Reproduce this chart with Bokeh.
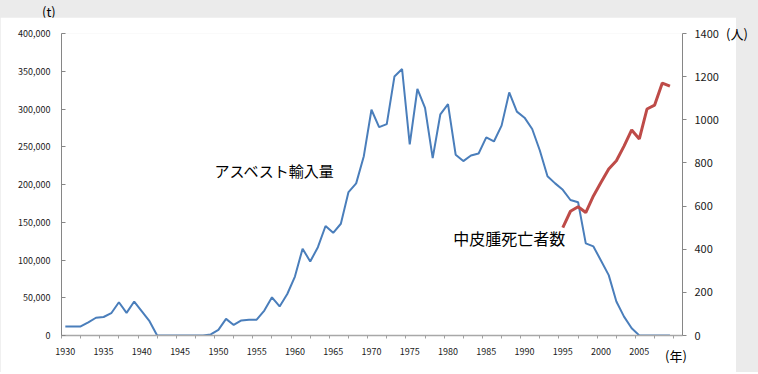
from bokeh.plotting import figure
from bokeh.models import Range1d, LinearAxis, FixedTicker, NumeralTickFormatter, Label, Div
from bokeh.layouts import column, row
from bokeh.embed import file_html
from bokeh.resources import INLINE

# ---- data ----
years = list(range(1930, 2010))
imports_t = [
    12000, 12000, 12000, 17500, 23500, 24500, 29500, 44000, 30000, 45000,   # 1930-39
    32000, 19000, 0, 0, 0, 0, 0, 0, 0, 1500,                                 # 1940-49
    7500, 22000, 14000, 20000, 21000, 21000, 33000, 50500, 38500, 55000,     # 1950-59
    78000, 115000, 98000, 117000, 145000, 136000, 148000, 190000, 201500, 237500,  # 1960-69
    299000, 276000, 280000, 343000, 353000, 253000, 326500, 301500, 235000, 293000,  # 1970-79
    306500, 239500, 231000, 238500, 241000, 262500, 257000, 278000, 322000, 296500,  # 1980-89
    288500, 273500, 245000, 211000, 201500, 193000, 179500, 176500, 122000, 118000,  # 1990-99
    99000, 80000, 45000, 25000, 9500, 100, 0, 0, 0, 0,                        # 2000-09
]
death_years = list(range(1995, 2010))
deaths = [500, 576, 597, 570, 647, 710, 772, 810, 878, 953, 911, 1050, 1068, 1170, 1156]

x_label_years = list(range(1930, 2010, 5))
x_minor_ticks = [1929.5 + 2.5 * i for i in range(33)]
left_ticks = list(range(0, 400001, 50000))
right_ticks = list(range(0, 1401, 200))

FONT = "Noto Sans CJK JP"
TXT = "#1a1a1a"
GRAY = "#ebebeb"

p = figure(width=736, height=355, output_backend="svg", toolbar_location=None,
           x_range=Range1d(1929.5, 2010.64), y_range=Range1d(0, 400000),
           min_border_left=61, min_border_right=54, min_border_top=16, min_border_bottom=37,
           margin=0)
p.extra_y_ranges = {"right": Range1d(0, 1400)}
p.xgrid.visible = False
p.ygrid.visible = False
p.outline_line_color = None
p.background_fill_color = "white"
p.border_fill_color = "white"

# x axis
xa = p.xaxis[0]
xa.ticker = FixedTicker(ticks=x_label_years, minor_ticks=x_minor_ticks)
xa.major_tick_out = 0
xa.major_tick_in = 0
xa.minor_tick_out = 3
xa.minor_tick_in = 0
xa.minor_tick_line_color = "#a0a0a0"
xa.axis_line_color = "#a8a8a8"
xa.axis_line_width = 1.5
xa.major_label_standoff = 9
xa.major_label_text_font = FONT
xa.major_label_text_font_size = "9px"
xa.major_label_text_color = TXT

# left axis
ya = p.yaxis[0]
ya.ticker = FixedTicker(ticks=left_ticks)
ya.formatter = NumeralTickFormatter(format="0,0")
ya.major_tick_in = 4
ya.major_tick_out = 0
ya.minor_tick_in = 0
ya.minor_tick_out = 0
ya.axis_line_color = "#868686"
ya.major_tick_line_color = "#868686"
ya.major_label_standoff = 11
ya.major_label_text_font = FONT
ya.major_label_text_font_size = "9px"
ya.major_label_text_color = TXT

# right axis
ra = LinearAxis(y_range_name="right", ticker=FixedTicker(ticks=right_ticks))
ra.major_tick_in = 0
ra.major_tick_out = 4
ra.minor_tick_in = 0
ra.minor_tick_out = 0
ra.axis_line_color = "#868686"
ra.major_tick_line_color = "#868686"
ra.major_label_standoff = 8
ra.major_label_text_font = FONT
ra.major_label_text_font_size = "11px"
ra.major_label_text_color = TXT
p.add_layout(ra, "right")

# lines
p.line(years, imports_t, line_color="#4a7ebb", line_width=2)
p.line(death_years, deaths, y_range_name="right", line_color="#be4b48", line_width=3)

# texts inside the plot
p.add_layout(Label(x=1949.5, y=218000, text="アスベスト輸入量", text_font=FONT,
                   text_font_size="15px", text_baseline="middle", text_align="left",
                   text_color="black"))
p.add_layout(Label(x=1980.7, y=450, y_range_name="right", text="中皮腫死亡者数", text_font=FONT,
                   text_font_size="16px", text_baseline="middle", text_align="left",
                   text_color="black"))

SPAN = "position:absolute;line-height:17px;white-space:nowrap;font-family:'Noto Sans CJK JP';color:#000;"
top = Div(width=758, height=17, margin=0, styles={"background-color": GRAY},
          text=('<div style="position:relative;width:758px;height:17px;">'
                f'<span style="{SPAN}left:42px;top:3px;font-size:13px;">(t)</span></div>'))
side = Div(width=22, height=355, margin=0, styles={"background-color": GRAY, "overflow": "visible"},
           text=('<div style="position:relative;width:22px;height:355px;overflow:visible;">'
                 f'<span style="{SPAN}left:-10px;top:8px;font-size:13px;">(人)</span>'
                 f'<span style="{SPAN}left:-71px;top:330px;font-size:13px;">(年)</span></div>'))

layout = column(top, row(p, side, spacing=0, margin=0), spacing=0, margin=0,
                styles={"background-color": GRAY})

open("out.html", "w").write(file_html(layout, INLINE))
